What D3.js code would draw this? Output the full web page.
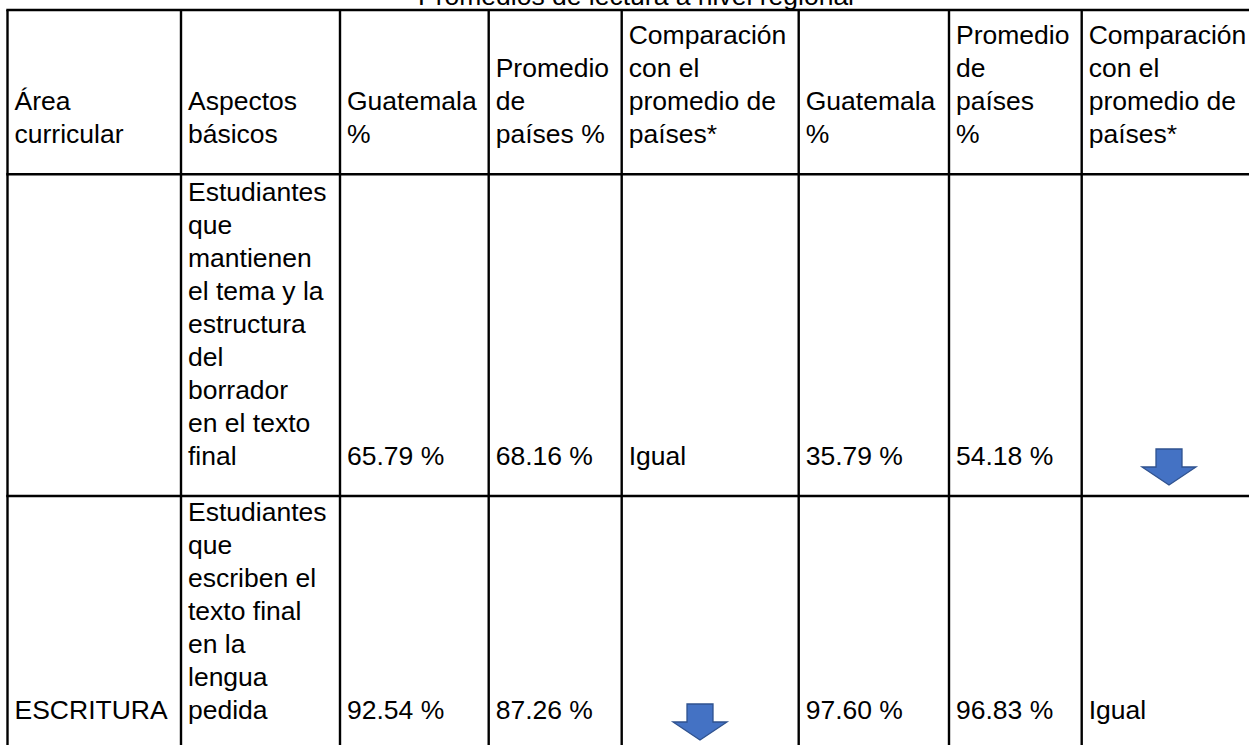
<!DOCTYPE html>
<html><head><meta charset="utf-8">
<script src="https://cdn.jsdelivr.net/npm/d3@7"></script>
<style>html,body{margin:0;padding:0;background:#fff;overflow:hidden}</style>
</head><body>
<svg id="c" width="1249" height="745"></svg>
<script>
const title = "Promedios de lectura a nivel regional";
const headers = [
  ["Área","curricular"],
  ["Aspectos","básicos"],
  ["Guatemala","%"],
  ["Promedio","de","países %"],
  ["Comparación","con el","promedio de","países*"],
  ["Guatemala","%"],
  ["Promedio","de","países","%"],
  ["Comparación","con el","promedio de","países*"]
];
const areas = ["", "ESCRITURA"];
const aspects = [
  ["Estudiantes","que","mantienen","el tema y la","estructura","del","borrador","en el texto","final"],
  ["Estudiantes","que","escriben el","texto final","en la","lengua","pedida"]
];
const guatemalaA = [65.79, 92.54];
const promedioA = [68.16, 87.26];
const comparacionA = ["Igual", "down"];
const guatemalaB = [35.79, 97.60];
const promedioB = [54.18, 96.83];
const comparacionB = ["down", "Igual"];

// layout
const colEdges = [7.5, 181, 340, 488.7, 621.7, 798.7, 949, 1081.7, 1262];
const rowEdges = [10, 174.3, 496, 750];
const fs = 26.5, lh = 33, pad = 7, bottomPad = 31;
const font = "'Liberation Sans', Arial, sans-serif";

const svg = d3.select("#c");
const x = d3.scaleOrdinal().domain(d3.range(8)).range(colEdges.slice(0,8));

svg.append("text").attr("x", 636).attr("y", 4.5).attr("text-anchor","middle")
  .attr("font-family", font).attr("font-size", fs).attr("fill","#000").text(title);

function cellLines(g, col, rowIdx, lines){
  const bottom = rowEdges[rowIdx+1];
  const n = lines.length;
  g.selectAll(null).data(lines).enter().append("text")
    .attr("x", x(col) + pad)
    .attr("y", (d,i) => bottom - bottomPad - (n-1-i)*lh)
    .attr("font-family", font).attr("font-size", fs).attr("fill","#000")
    .text(d => d);
}

const g = svg.append("g");
headers.forEach((h,i) => cellLines(g, i, 0, h));

const fmt = v => v.toFixed(2) + " %";
const rowsData = d3.range(2).map(r => ({
  cells: [
    areas[r] ? [areas[r]] : [],
    aspects[r],
    [fmt(guatemalaA[r])],
    [fmt(promedioA[r])],
    comparacionA[r],
    [fmt(guatemalaB[r])],
    [fmt(promedioB[r])],
    comparacionB[r]
  ]
}));

// arrow offsets inside cells (floating shapes): [dx center from col left, top from row top]
const arrowPos = {
  "0-7": {cx: 1169 - 1081.7, top: 449 - 496 + (496-174.3)},
};
function arrowPath(cx, top){
  const w = 54, sw = 26, h1 = 18, h2 = 36;
  return `M${cx-sw/2},${top} L${cx+sw/2},${top} L${cx+sw/2},${top+h1} L${cx+w/2},${top+h1} L${cx},${top+h2} L${cx-w/2},${top+h1} L${cx-sw/2},${top+h1} Z`;
}
const arrowSpots = [
  {r:0, c:7, cx:1169, top:449},
  {r:1, c:4, cx:700, top:704},
  {r:1, c:7, cx:1172, top:597}
];

rowsData.forEach((row, r) => {
  row.cells.forEach((cell, c) => {
    if (cell === "down") {
      const s = arrowSpots.find(a => a.r===r && a.c===c);
      svg.append("path").attr("d", arrowPath(s.cx, s.top))
        .attr("fill","#4472C4").attr("stroke","#2F528F").attr("stroke-width",1.3);
    } else {
      const lines = typeof cell === "string" ? [cell] : cell;
      cellLines(g, c, r+1, lines);
    }
  });
});

// grid lines
const lw = 2.4;
svg.selectAll(null).data(rowEdges).enter().append("line")
  .attr("x1", colEdges[0]-lw/2).attr("x2", 1260).attr("y1", d=>d).attr("y2", d=>d)
  .attr("stroke","#000").attr("stroke-width", lw);
svg.selectAll(null).data(colEdges.slice(0,8)).enter().append("line")
  .attr("x1", d=>d).attr("x2", d=>d).attr("y1", rowEdges[0]).attr("y2", 760)
  .attr("stroke","#000").attr("stroke-width", lw);
</script>
</body></html>
